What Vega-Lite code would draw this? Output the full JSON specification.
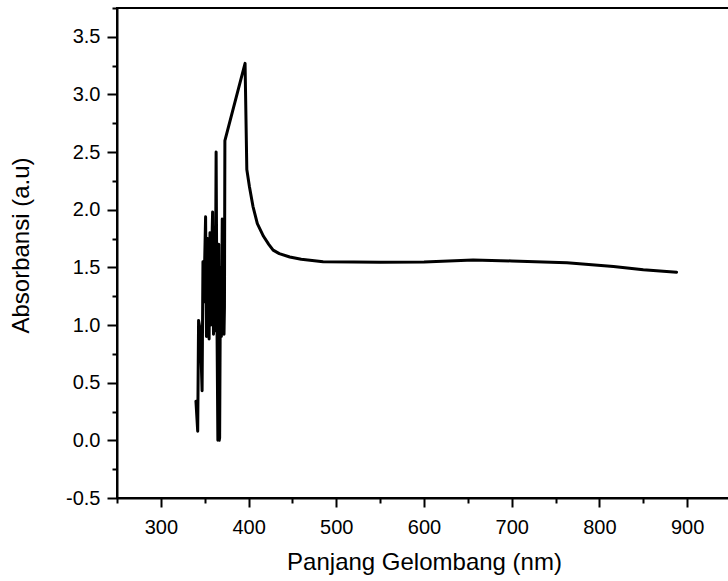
{
  "$schema": "https://vega.github.io/schema/vega-lite/v6.json",
  "width": 614,
  "height": 490,
  "autosize": {"type": "none"},
  "padding": {"left": 117, "top": 8, "right": 0, "bottom": 83},
  "background": "white",
  "view": {"stroke": "black", "strokeWidth": 2},
  "config": {
    "font": "Liberation Sans",
    "axis": {
      "domainColor": "black",
      "domainWidth": 2,
      "tickColor": "black",
      "tickWidth": 2,
      "labelColor": "black",
      "titleColor": "black",
      "labelFont": "Liberation Sans",
      "titleFont": "Liberation Sans",
      "labelFontSize": 20,
      "titleFontSize": 24,
      "titleFontWeight": "normal",
      "grid": false
    }
  },
  "data": {
    "values": [
      {"i": 1, "wl": 340, "abs": 0.34},
      {"i": 2, "wl": 342, "abs": 0.08},
      {"i": 3, "wl": 343, "abs": 1.04},
      {"i": 4, "wl": 345, "abs": 0.95},
      {"i": 5, "wl": 347, "abs": 0.43},
      {"i": 6, "wl": 348, "abs": 1.55},
      {"i": 7, "wl": 349, "abs": 1.2},
      {"i": 8, "wl": 351, "abs": 1.94},
      {"i": 9, "wl": 352, "abs": 0.9},
      {"i": 10, "wl": 353, "abs": 1.75},
      {"i": 11, "wl": 355, "abs": 0.88},
      {"i": 12, "wl": 356, "abs": 1.8},
      {"i": 13, "wl": 357, "abs": 1.0},
      {"i": 14, "wl": 358, "abs": 1.65},
      {"i": 15, "wl": 359, "abs": 1.98},
      {"i": 16, "wl": 360, "abs": 0.92},
      {"i": 17, "wl": 361, "abs": 1.85},
      {"i": 18, "wl": 362, "abs": 0.95},
      {"i": 19, "wl": 363, "abs": 2.5},
      {"i": 20, "wl": 364, "abs": 1.0},
      {"i": 21, "wl": 365, "abs": 0.0},
      {"i": 22, "wl": 366, "abs": 1.7},
      {"i": 23, "wl": 366.5, "abs": 0.0},
      {"i": 24, "wl": 367, "abs": 0.02},
      {"i": 25, "wl": 368, "abs": 1.5},
      {"i": 26, "wl": 369, "abs": 0.9},
      {"i": 27, "wl": 370, "abs": 1.92},
      {"i": 28, "wl": 371, "abs": 1.1},
      {"i": 29, "wl": 372, "abs": 0.92},
      {"i": 30, "wl": 372.5, "abs": 1.15},
      {"i": 31, "wl": 373, "abs": 2.6},
      {"i": 32, "wl": 396, "abs": 3.27},
      {"i": 33, "wl": 398, "abs": 2.35},
      {"i": 34, "wl": 401, "abs": 2.2},
      {"i": 35, "wl": 405, "abs": 2.03},
      {"i": 36, "wl": 410, "abs": 1.88},
      {"i": 37, "wl": 417, "abs": 1.77},
      {"i": 38, "wl": 423, "abs": 1.7},
      {"i": 39, "wl": 428, "abs": 1.65},
      {"i": 40, "wl": 435, "abs": 1.62},
      {"i": 41, "wl": 447, "abs": 1.59},
      {"i": 42, "wl": 460, "abs": 1.57},
      {"i": 43, "wl": 485, "abs": 1.55},
      {"i": 44, "wl": 520, "abs": 1.547},
      {"i": 45, "wl": 550, "abs": 1.545},
      {"i": 46, "wl": 600, "abs": 1.548},
      {"i": 47, "wl": 656, "abs": 1.565},
      {"i": 48, "wl": 700, "abs": 1.556},
      {"i": 49, "wl": 763, "abs": 1.54},
      {"i": 50, "wl": 816, "abs": 1.507},
      {"i": 51, "wl": 850, "abs": 1.48},
      {"i": 52, "wl": 888, "abs": 1.458}
    ]
  },
  "mark": {"type": "line", "color": "black", "strokeWidth": 3, "strokeJoin": "round", "strokeCap": "round", "clip": true},
  "encoding": {
    "order": {"field": "i", "type": "quantitative"},
    "x": {
      "field": "wl",
      "type": "quantitative",
      "scale": {"domain": [250, 950], "nice": false, "zero": false},
      "axis": {
        "title": "Panjang Gelombang (nm)",
        "values": [250, 300, 350, 400, 450, 500, 550, 600, 650, 700, 750, 800, 850, 900, 950],
        "labelExpr": "datum.value % 100 === 0 ? datum.label : ''",
        "tickSize": {"condition": {"test": "datum.value % 100 === 0", "value": 9}, "value": 5},
        "labelPadding": 10,
        "titlePadding": 13,
        "labelFlush": false,
        "labelOverlap": false
      }
    },
    "y": {
      "field": "abs",
      "type": "quantitative",
      "scale": {"domain": [-0.5, 3.75], "nice": false, "zero": false},
      "axis": {
        "title": "Absorbansi (a.u)",
        "titleY": 237,
        "values": [-0.5, -0.25, 0, 0.25, 0.5, 0.75, 1, 1.25, 1.5, 1.75, 2, 2.25, 2.5, 2.75, 3, 3.25, 3.5, 3.75],
        "labelExpr": "(datum.value * 2) % 1 === 0 ? replace(format(datum.value, '.1f'), '−', '-') : ''",
        "tickSize": {"condition": {"test": "(datum.value * 2) % 1 === 0", "value": 10}, "value": 5},
        "labelPadding": 7,
        "titlePadding": 32,
        "labelFlush": false,
        "labelOverlap": false
      }
    }
  }
}
